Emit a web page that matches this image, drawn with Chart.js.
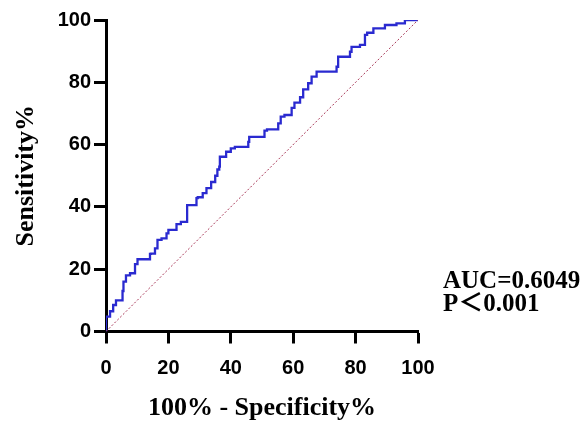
<!DOCTYPE html>
<html>
<head>
<meta charset="utf-8">
<script src="https://cdn.jsdelivr.net/npm/chart.js@4.4.1/dist/chart.umd.min.js"></script>
<style>
  html, body { margin: 0; padding: 0; background: #fff; }
  #wrap { width: 585px; height: 424px; position: relative; }
</style>
</head>
<body>
<div id="wrap"><canvas id="rocChart"></canvas></div>
<script>
// ROC curve vertices (100% - specificity, sensitivity)
const fpr = [0, 0, 1.3, 2.3, 2.5, 3.2, 4.3, 5.3, 5.6, 6.4, 7.7, 9.3, 10.1, 12, 14.1, 14.4, 15.7, 16.5, 17.8, 19.4,
  20, 22.6, 24, 26, 26.7, 29, 29.4, 31, 32.2, 33.7, 35, 35.7, 36.3, 36.5, 38.5, 40, 41.3, 43, 45.6, 45.9,
  47, 50.8, 51.6, 55.2, 56, 57.2, 59.5, 60.4, 62.2, 63.2, 64.8, 65.9, 67.5, 69.1, 73.9, 74.4, 75.8, 78.2, 78.7, 81.4,
  83, 83.7, 85.7, 86.8, 89.4, 93.1, 95.8, 96.6, 100];
const tpr = [0, 4.8, 4.8, 6.5, 8.5, 8.5, 10, 10, 13, 16, 18, 18.7, 21.6, 23.2, 23.2, 24.9, 25, 26.7, 29.4, 29.9,
  31.5, 32.6, 34.5, 35.2, 40.6, 40.6, 42.8, 43.1, 44.4, 46, 48, 50, 52, 52.9, 56.1, 57.7, 58.8, 59.3, 59.3, 60.9,
  62.5, 62.5, 64.5, 64.9, 66.8, 69, 69.5, 71.8, 73.5, 75.2, 77.7, 79.7, 81.8, 83.4, 83.4, 85, 88.2, 88.2, 89.8, 91.4,
  92, 95.2, 95.9, 97.3, 97.3, 98.4, 98.9, 100, 100];
const refX = [0, 100];
const refY = [0, 100];
const tickValues = [0, 20, 40, 60, 80, 100];
const xTitle = '100% - Specificity%';
const yTitle = 'Sensitivity%';
const statLines = ['AUC=0.6049', 'P＜0.001'];

const rocPoints = fpr.map((x, i) => ({ x: x, y: tpr[i] }));
const refPoints = refX.map((x, i) => ({ x: x, y: refY[i] }));

// chu thich AUC ben phai
const statText = {
  id: 'statText',
  afterDraw(chart) {
    const ctx = chart.ctx;
    ctx.save();
    ctx.fillStyle = '#000';
    ctx.font = 'bold 25px "Liberation Serif", "Noto Sans CJK SC", serif';
    ctx.textBaseline = 'alphabetic';
    ctx.textAlign = 'left';
    ctx.fillText(statLines[0], 443, 288);
    ctx.fillText(statLines[1], 443, 311);
    ctx.restore();
  }
};

const tickFont = { family: '"Liberation Sans", Arial, sans-serif', size: 20, weight: 'bold' };
const titleFont = { family: '"Liberation Serif", "Times New Roman", serif', size: 26, weight: 'bold' };

new Chart(document.getElementById('rocChart'), {
  type: 'line',
  data: {
    datasets: [
      {
        data: refPoints,
        borderColor: '#a83858',
        borderWidth: 1,
        borderDash: [2, 2],
        pointRadius: 0,
        fill: false
      },
      {
        data: rocPoints,
        borderColor: '#2a2ad0',
        borderWidth: 2.3,
        pointRadius: 0,
        stepped: 'after',
        fill: false
      }
    ]
  },
  options: {
    responsive: true,
    maintainAspectRatio: false,
    animation: false,
    layout: { padding: { left: 0, right: 167, top: 20, bottom: 0 } },
    plugins: { legend: { display: false }, tooltip: { enabled: false } },
    scales: {
      x: {
        type: 'linear',
        min: 0, max: 100,
        afterFit: s => { s.height = 92.5; },
        afterBuildTicks: s => { s.ticks = tickValues.map(v => ({ value: v })); },
        border: { display: true, color: '#000', width: 3 },
        grid: { drawOnChartArea: false, drawTicks: true, tickLength: 12, tickWidth: 3, tickColor: '#000' },
        ticks: { color: '#000', font: tickFont, padding: 13, maxRotation: 0 },
        title: { display: true, text: xTitle, color: '#000', font: titleFont, padding: { top: 1, bottom: 0 } }
      },
      y: {
        type: 'linear',
        min: 0, max: 100,
        afterFit: s => { s.width = 106; },
        afterBuildTicks: s => { s.ticks = tickValues.map(v => ({ value: v })); },
        border: { display: true, color: '#000', width: 3 },
        grid: { drawOnChartArea: false, drawTicks: true, tickLength: 12, tickWidth: 3, tickColor: '#000' },
        ticks: { color: '#000', font: tickFont, padding: 3 },
        title: { display: true, text: yTitle, color: '#000', font: titleFont, padding: { top: 11, bottom: 0 } }
      }
    }
  },
  plugins: [statText]
});
</script>
</body>
</html>
